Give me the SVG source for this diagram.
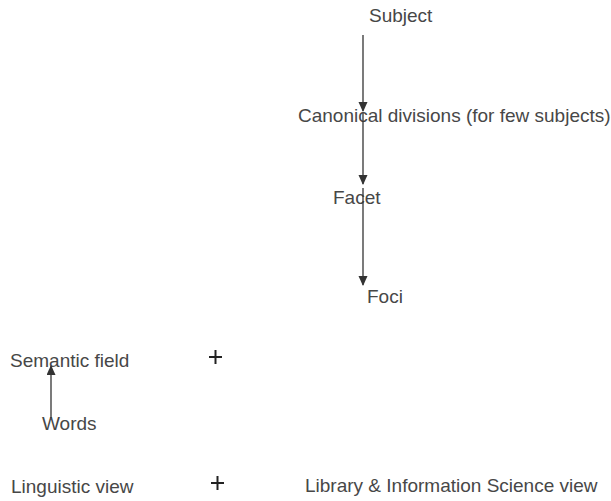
<svg xmlns="http://www.w3.org/2000/svg" width="611" height="501" viewBox="0 0 611 501">
<style>
  text { font-family: "Liberation Sans", Arial, sans-serif; font-size: 19px; fill: #474747; }
  .c line { stroke: #333; stroke-width: 1.3; }
  .plus line { stroke: #222; stroke-width: 2; }
</style>
<defs>
  <marker id="ah" markerWidth="10" markerHeight="10" refX="9" refY="4.5" orient="auto" markerUnits="userSpaceOnUse">
    <path d="M0,0 L10,4.5 L0,9 Z" fill="#333"/>
  </marker>
</defs>
<rect width="611" height="501" fill="#fff"/>
<g id="subject"><text x="369" y="22">Subject</text></g>
<g id="canonical"><text x="298" y="122">Canonical divisions (for few subjects)</text></g>
<g id="facet"><text x="333" y="204">Facet</text></g>
<g id="foci"><text x="367" y="303">Foci</text></g>
<g id="semantic"><text x="10" y="367">Semantic field</text></g>
<g id="words"><text x="42" y="430">Words</text></g>
<g id="linguistic"><text x="11" y="493">Linguistic view</text></g>
<g id="lis"><text x="305" y="492">Library &amp; Information Science view</text></g>
<g id="plus1" class="plus"><line x1="209" y1="357" x2="222" y2="357"/><line x1="215.5" y1="350" x2="215.5" y2="364"/></g>
<g id="plus2" class="plus"><line x1="211" y1="483" x2="224" y2="483"/><line x1="217.5" y1="476" x2="217.5" y2="490"/></g>
<g id="connectors" class="c">
  <line x1="363" y1="35" x2="363" y2="111" marker-end="url(#ah)"/>
  <line x1="363" y1="113" x2="363" y2="184" marker-end="url(#ah)"/>
  <line x1="363" y1="188" x2="363" y2="285" marker-end="url(#ah)"/>
  <line x1="51" y1="418" x2="51" y2="366" marker-end="url(#ah)"/>
</g>
</svg>
